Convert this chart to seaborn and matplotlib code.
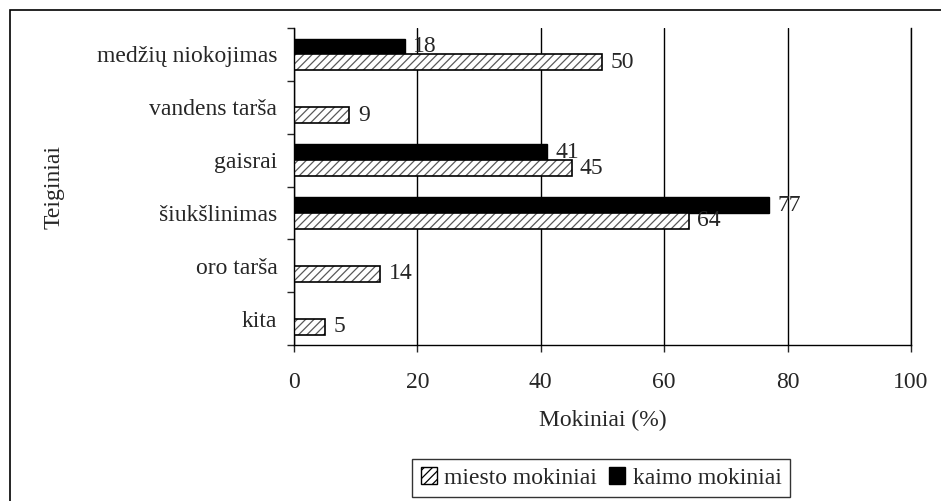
import numpy as np
import pandas as pd
import matplotlib
matplotlib.use("Agg")
import matplotlib.pyplot as plt
import seaborn as sns
from matplotlib.patches import Patch, Rectangle
from matplotlib.ticker import FixedLocator

# duomenys
teiginiai = ["medžių niokojimas", "vandens tarša", "gaisrai", "šiukšlinimas", "oro tarša", "kita"]
miesto = [50, 9, 45, 64, 14, 5]
kaimo = [18, np.nan, 41, 77, np.nan, np.nan]
x_ticks = [0, 20, 40, 60, 80, 100]

df = pd.DataFrame({
    "Teiginiai": teiginiai * 2,
    "reiksme": kaimo + miesto,
    "grupe": ["kaimo mokiniai"] * len(teiginiai) + ["miesto mokiniai"] * len(teiginiai),
})

sns.set_style("white")
plt.rcParams["font.family"] = ["Liberation Serif", "DejaVu Serif"]
plt.rcParams["hatch.linewidth"] = 0.9
fs = 17

fig = plt.figure(figsize=(9.41, 5.01), dpi=100)
ax = fig.add_axes([0.3124, 0.311, 0.6557, 0.633])

# remelis aplink visa paveiksla
fig.patches.append(Rectangle((10 / 941, -0.1), 1.2, 1 - 10 / 501 + 0.1, transform=fig.transFigure,
                             fill=False, edgecolor="black", linewidth=1.2))

sns.barplot(data=df, y="Teiginiai", x="reiksme", hue="grupe", order=teiginiai,
            hue_order=["kaimo mokiniai", "miesto mokiniai"],
            palette=["black", "white"], width=0.6, orient="h", ax=ax,
            edgecolor="black", linewidth=1, legend=False, errorbar=None)

# uzbruksniuoti miesto stulpelius
for bar in ax.containers[1]:
    bar.set_hatch("////")
    bar.set_edgecolor("0.35")
    bar.set_linewidth(0)
    x0, y0 = bar.get_xy()
    ax.add_patch(Rectangle((x0, y0), bar.get_width(), bar.get_height(),
                           fill=False, edgecolor="black", linewidth=1.2, zorder=3))

for cont, vals in zip(ax.containers, [kaimo, miesto]):
    labels = [str(int(v)) for v in vals if not np.isnan(v)]
    ax.bar_label(cont, labels=labels, padding=6, fontsize=fs)

ax.set_xlim(0, 100)
ax.set_ylim(5.5, -0.5)
ax.set_xticks(x_ticks)
ax.xaxis.grid(True, color="black", linewidth=1)
ax.set_axisbelow(True)
ax.tick_params(axis="x", direction="out", length=5, width=1, pad=14, labelsize=fs, bottom=True)
ax.tick_params(axis="y", which="major", length=0, pad=12, labelsize=fs)
ax.yaxis.set_minor_locator(FixedLocator(np.arange(-0.5, 6, 1)))
ax.tick_params(axis="y", which="minor", direction="out", length=5, width=1, left=True)

ax.spines["top"].set_visible(False)
for s in ["left", "bottom", "right"]:
    ax.spines[s].set_color("black")
    ax.spines[s].set_linewidth(1)

ax.set_xlabel("Mokiniai (%)", fontsize=fs)
ax.set_ylabel("Teiginiai", fontsize=fs)
ax.xaxis.set_label_coords(0.5, -0.205)
ax.yaxis.set_label_coords(-0.371, 0.5)

handles = [Patch(facecolor="white", edgecolor="black", hatch="////", label="miesto mokiniai"),
           Patch(facecolor="black", edgecolor="black", label="kaimo mokiniai")]
leg = ax.legend(handles=handles, loc="center", bbox_to_anchor=(601 / 941, 1 - 478 / 501),
                bbox_transform=fig.transFigure, ncol=2, frameon=True, fancybox=False,
                fontsize=fs, handlelength=0.7, handleheight=0.7, handletextpad=0.3,
                columnspacing=0.5, borderpad=0.35)
leg.get_frame().set_edgecolor("black")
leg.get_frame().set_linewidth(1)

fig.savefig("out.png", dpi=100)
